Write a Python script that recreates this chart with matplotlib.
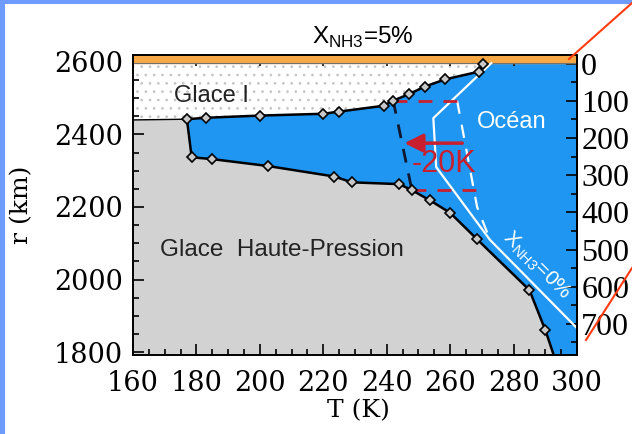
import numpy as np
import matplotlib.pyplot as plt
from matplotlib.lines import Line2D
from matplotlib.patches import Polygon, Rectangle

plt.rcParams['mathtext.fontset'] = 'custom'
plt.rcParams['mathtext.rm'] = 'Liberation Sans'
plt.rcParams['hatch.linewidth'] = 0.7

# ice I / ocean interface (black line with diamonds)
t_top = [177, 183, 200, 220, 225, 239, 242, 247, 252, 258.5, 269, 270.5]
r_top = [2442, 2446, 2452, 2457, 2463, 2479, 2493, 2511, 2532, 2552, 2573, 2594]
# ocean / high pressure ice interface
t_bot = [178.5, 185, 202.5, 223.5, 229, 244, 248, 253.5, 260, 268.5, 285, 290]
r_bot = [2337, 2332, 2313, 2284, 2268, 2263, 2246, 2219, 2184, 2111, 1971, 1861]
t_bot_end, r_bot_end = 293.5, 1770
r_left = 2440     # glace I / HP ice at left edge
r_crust = 2597    # bottom of orange layer

# X_NH3 = 0% case (white)
t_w0 = [273, 254.7, 255.6, 272.6, 300]
r_w0 = [2597, 2445, 2310, 2109, 1866]
t_w0d = [262.2, 268.5, 272.6]
r_w0d = [2493, 2200, 2109]
# -20 K shifted boundary
t_k = [242, 248]
r_k = [2495, 2244]
# red box / arrow
box_top = ([242, 262.2], 2493)
box_bot = ([248, 268.5], 2247)
arrow_t = (264.7, 244.7)
arrow_r = 2376

TMIN, TMAX = 160, 300
RMIN, RMAX = 1792, 2619

ocean = '#1e96f2'
hp_grey = '#d2d2d2'
red = '#c8202e'
border = '#6e9bff'

fig = plt.figure(figsize=(6.32, 4.34), dpi=100)
fig.patches.append(Rectangle((0, 0), 5 / 632, 1, transform=fig.transFigure,
                             facecolor=border, edgecolor='none'))
fig.patches.append(Rectangle((0, 1 - 4 / 434), 1, 4 / 434, transform=fig.transFigure,
                             facecolor=border, edgecolor='none'))

ax = fig.add_axes([133 / 632, 1 - 355 / 434, 444 / 632, 300 / 434])
ax.set_facecolor(ocean)
ax.set_xlim(TMIN, TMAX)
ax.set_ylim(RMIN, RMAX)

# glace I (stippled)
ice1 = [(TMIN, r_left)] + list(zip(t_top, r_top)) + [(t_top[-1], r_crust), (TMIN, r_crust)]
ax.add_patch(Polygon(ice1, closed=True, facecolor='white', edgecolor='#c4c4c4',
                     hatch='..', lw=0, zorder=1))
# high pressure ice
hp = [(TMIN, r_left), (t_top[0], r_top[0])] + list(zip(t_bot, r_bot)) + \
     [(t_bot_end, r_bot_end), (TMIN, r_bot_end)]
ax.add_patch(Polygon(hp, closed=True, facecolor=hp_grey, edgecolor='none', zorder=1))

# crust
ax.axhspan(r_crust, RMAX + 50, color='#f6a844', zorder=2)
ax.axhline(r_crust, color='#707070', lw=0.8, zorder=2)

# white lines (pure water)
ax.plot(t_w0, r_w0, color='white', lw=1.6, zorder=3)
ax.plot(t_w0d, r_w0d, color='white', lw=1.6, ls=(0, (6, 5)), zorder=3)

# red dashed box and arrow
ax.plot(box_top[0], [box_top[1]] * 2, color=red, lw=2, ls=(0, (5, 4)), zorder=3)
ax.plot(box_bot[0], [box_bot[1]] * 2, color=red, lw=2, ls=(0, (5, 4)), zorder=3)
ax.annotate('', xy=(arrow_t[1], arrow_r), xytext=(arrow_t[0], arrow_r),
            arrowprops=dict(arrowstyle='-|>', color=red, lw=2.5, mutation_scale=28),
            zorder=4)
ax.text(258, 2318, '-20K', color=red, fontsize=22, family='Liberation Sans',
        ha='center', va='center', zorder=4)

# black boundaries
ax.plot([TMIN, t_top[0]], [r_left, r_top[0]], color='black', lw=1, zorder=4)
ax.plot([t_top[0], t_bot[0]], [r_top[0], r_bot[0]], color='black', lw=1.8, zorder=4)
ax.plot(t_top, r_top, color='black', lw=1.8, marker='D', ms=5.5,
        mfc='#c8c8c8', mec='black', mew=1.2, zorder=5)
ax.plot(t_bot + [t_bot_end], r_bot + [r_bot_end], color='black', lw=1.8, zorder=4)
ax.plot(t_bot, r_bot, ls='none', marker='D', ms=5.5,
        mfc='#c8c8c8', mec='black', mew=1.2, zorder=5)
ax.plot(t_k, r_k, color='#101830', lw=2, ls=(0, (5, 4)), zorder=4)

# labels in the plot
ax.text(173, 2506, 'Glace I', fontsize=17, family='Liberation Sans',
        ha='left', va='center', color='#222222', zorder=6)
ax.text(268.5, 2434, 'Océan', fontsize=17, family='Liberation Sans',
        ha='left', va='center', color='white', zorder=6)
ax.text(168.5, 2081, 'Glace  Haute-Pression', fontsize=17.5, family='Liberation Sans',
        ha='left', va='center', color='#222222', zorder=6)
ax.text(287.4, 2040, r'X$_{\mathregular{NH3}}$=0%', fontsize=15, family='Liberation Sans',
        rotation=-45, rotation_mode='anchor', ha='center', va='center',
        color='white', zorder=6)

# axes / ticks
ax.set_xticks(np.arange(160, 301, 20))
ax.set_xticks(np.arange(160, 301, 5), minor=True)
ax.set_yticks(np.arange(1800, 2601, 200))
ax.set_yticks(np.arange(1800, 2601, 50), minor=True)
ax.tick_params(which='both', direction='in', top=True, right=False, width=1.2)
ax.tick_params(which='major', length=8, labelsize=19.5, pad=7)
ax.tick_params(axis='x', which='major', pad=11)
ax.tick_params(which='minor', length=4)
for lab in ax.get_xticklabels() + ax.get_yticklabels():
    lab.set_family('DejaVu Serif')
for s in ax.spines.values():
    s.set_linewidth(1.4)
    s.set_zorder(7)

depth0 = 2595
scale = 0.976
sec = ax.secondary_yaxis('right', functions=(lambda r: (depth0 - r) * scale,
                                              lambda d: depth0 - d / scale))
sec.set_yticks(np.arange(0, 701, 100))
sec.set_yticks(np.arange(0, 801, 50), minor=True)
sec.tick_params(which='both', direction='in', width=1.2)
sec.tick_params(which='major', length=8, labelsize=23, pad=3)
sec.tick_params(which='minor', length=4)
for lab in sec.get_yticklabels():
    lab.set_family('Liberation Serif')
sec.spines['right'].set_linewidth(1.4)

fig.text(22 / 632, 1 - 205 / 434, 'r (km)', rotation=90, fontsize=18,
         family='DejaVu Serif', ha='center', va='center')
fig.text(358 / 632, 1 - 411 / 434, 'T (K)', fontsize=18,
         family='DejaVu Serif', ha='center', va='center')
fig.text(363 / 632, 1 - 44 / 434, r'X$_{\mathregular{NH3}}$=5%', fontsize=17.5,
         family='Liberation Sans', ha='center', va='baseline')

# red-orange guide lines outside the frame
fig.add_artist(Line2D([569 / 632, 632 / 632], [1 - 59 / 434, 1 - 3 / 434],
                      transform=fig.transFigure, color='#ff3c10', lw=1.5))
fig.add_artist(Line2D([586 / 632, 632 / 632], [1 - 340 / 434, 1 - 268 / 434],
                      transform=fig.transFigure, color='#ff3c10', lw=1.5))

fig.savefig('out.png', dpi=100)
